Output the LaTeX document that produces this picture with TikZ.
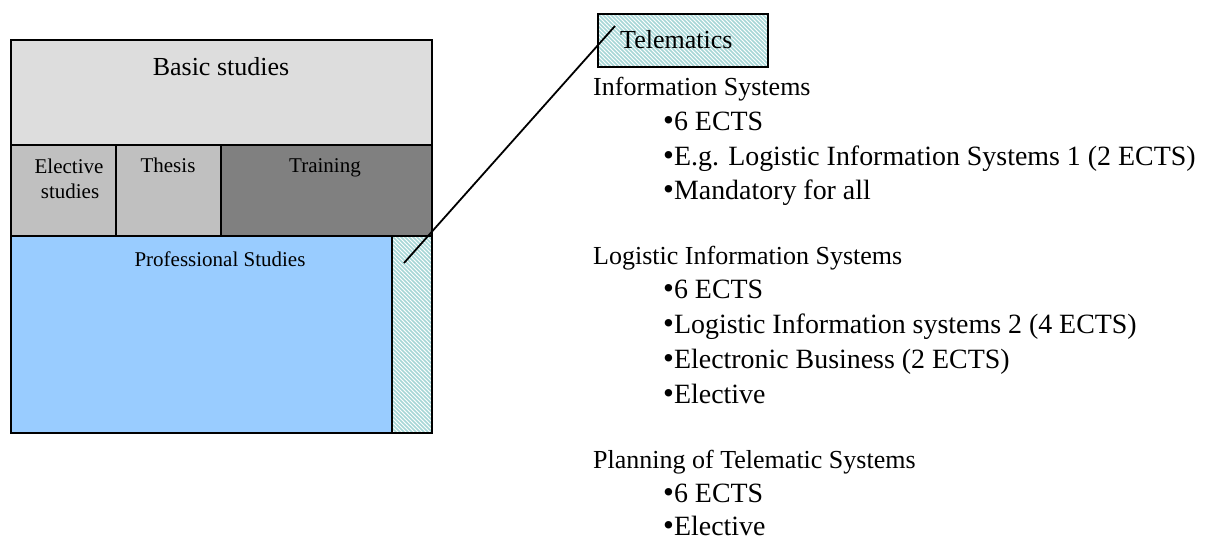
\documentclass[tikz,border=0pt]{standalone}
\usepackage{fontspec}
\setmainfont{Liberation Serif}
\usetikzlibrary{patterns}
\definecolor{basicgray}{HTML}{DDDDDD}
\definecolor{midgray}{HTML}{C0C0C0}
\definecolor{traingray}{HTML}{808080}
\definecolor{profblue}{HTML}{99CCFF}
\definecolor{hatchteal}{HTML}{A6D6D6}
\pgfdeclarepatternformonly{telhatch}{\pgfqpoint{-1pt}{-1pt}}{\pgfqpoint{5pt}{5pt}}{\pgfqpoint{4pt}{4pt}}{
  \pgfsetlinewidth{1.5pt}
  \pgfpathmoveto{\pgfqpoint{0pt}{4pt}}
  \pgfpathlineto{\pgfqpoint{4.1pt}{-0.1pt}}
  \pgfusepath{stroke}}
\newcommand{\itemdot}{{\fontsize{31}{31}\selectfont\textbullet}}
\tikzstyle{box}=[draw, line width=1.9pt, rectangle, inner sep=0pt, anchor=north west]
\tikzstyle{hatched}=[pattern=telhatch, pattern color=hatchteal]
\tikzset{big/.style={font=\fontsize{26}{30}\selectfont, inner sep=0pt}}
\tikzset{sub/.style={font=\fontsize{27.9}{30}\selectfont, inner sep=0pt, anchor=base west}}
\tikzset{small/.style={font=\fontsize{21}{24}\selectfont, inner sep=0pt}}

\begin{document}
\begin{tikzpicture}[x=1pt,y=-1pt]
  \useasboundingbox (0,0) rectangle (1206,540);
  \node[box, fill=basicgray, minimum width=421pt, minimum height=105pt] (basic) at (10,39) {};
  \node[box, fill=midgray, minimum width=105pt, minimum height=91pt] (elective) at (10,144) {};
  \node[box, fill=midgray, minimum width=105pt, minimum height=91pt] (thesis) at (115,144) {};
  \node[box, fill=traingray, minimum width=211pt, minimum height=91pt] (training) at (220,144) {};
  \node[box, fill=profblue, minimum width=381pt, minimum height=197pt] (prof) at (10,235) {};
  \node[box, hatched, minimum width=40pt, minimum height=197pt] (strip) at (391,235) {};
  \node[box, hatched, minimum width=170pt, minimum height=53pt] (tel) at (597,13) {};

  \node[big, anchor=base] (basiclbl) at (221,76) {Basic studies};
  \node[small, anchor=base] (eleclbl) at (69,174) {Elective};
  \node[small, anchor=base] (eleclblb) at (70,198) {studies};
  \node[small, anchor=base] (thesislbl) at (168,173) {Thesis};
  \node[small, anchor=base] (trainlbl) at (325,173) {Training};
  \node[small, anchor=base] (proflbl) at (220,266) {Professional Studies};
  \node[big, anchor=base west] (tellbl) at (620,49) {Telematics};

  \coordinate (from) at (404,263);
  \coordinate (to) at (615,26);
  \draw[line width=1.8pt] (from) -- (to);

  \node[big, anchor=base west] (is) at (593,96) {Information Systems};
  \node[sub] (isa) at (663,131) {\itemdot6 ECTS};
  \node[sub] (isb) at (663,165) {\itemdot E.g. Logistic Information Systems 1 (2 ECTS)};
  \node[sub] (isc) at (663,199) {\itemdot Mandatory for all};

  \node[big, anchor=base west] (lis) at (593,264) {Logistic Information Systems};
  \node[sub] (lisa) at (663,298) {\itemdot6 ECTS};
  \node[sub] (lisb) at (663,333) {\itemdot Logistic Information systems 2 (4 ECTS)};
  \node[sub] (lisc) at (663,368) {\itemdot Electronic Business (2 ECTS)};
  \node[sub] (lisd) at (663,403) {\itemdot Elective};

  \node[big, anchor=base west] (pts) at (593,468) {Planning of Telematic Systems};
  \node[sub] (ptsa) at (663,502) {\itemdot6 ECTS};
  \node[sub] (ptsb) at (663,535) {\itemdot Elective};
\end{tikzpicture}
\end{document}
